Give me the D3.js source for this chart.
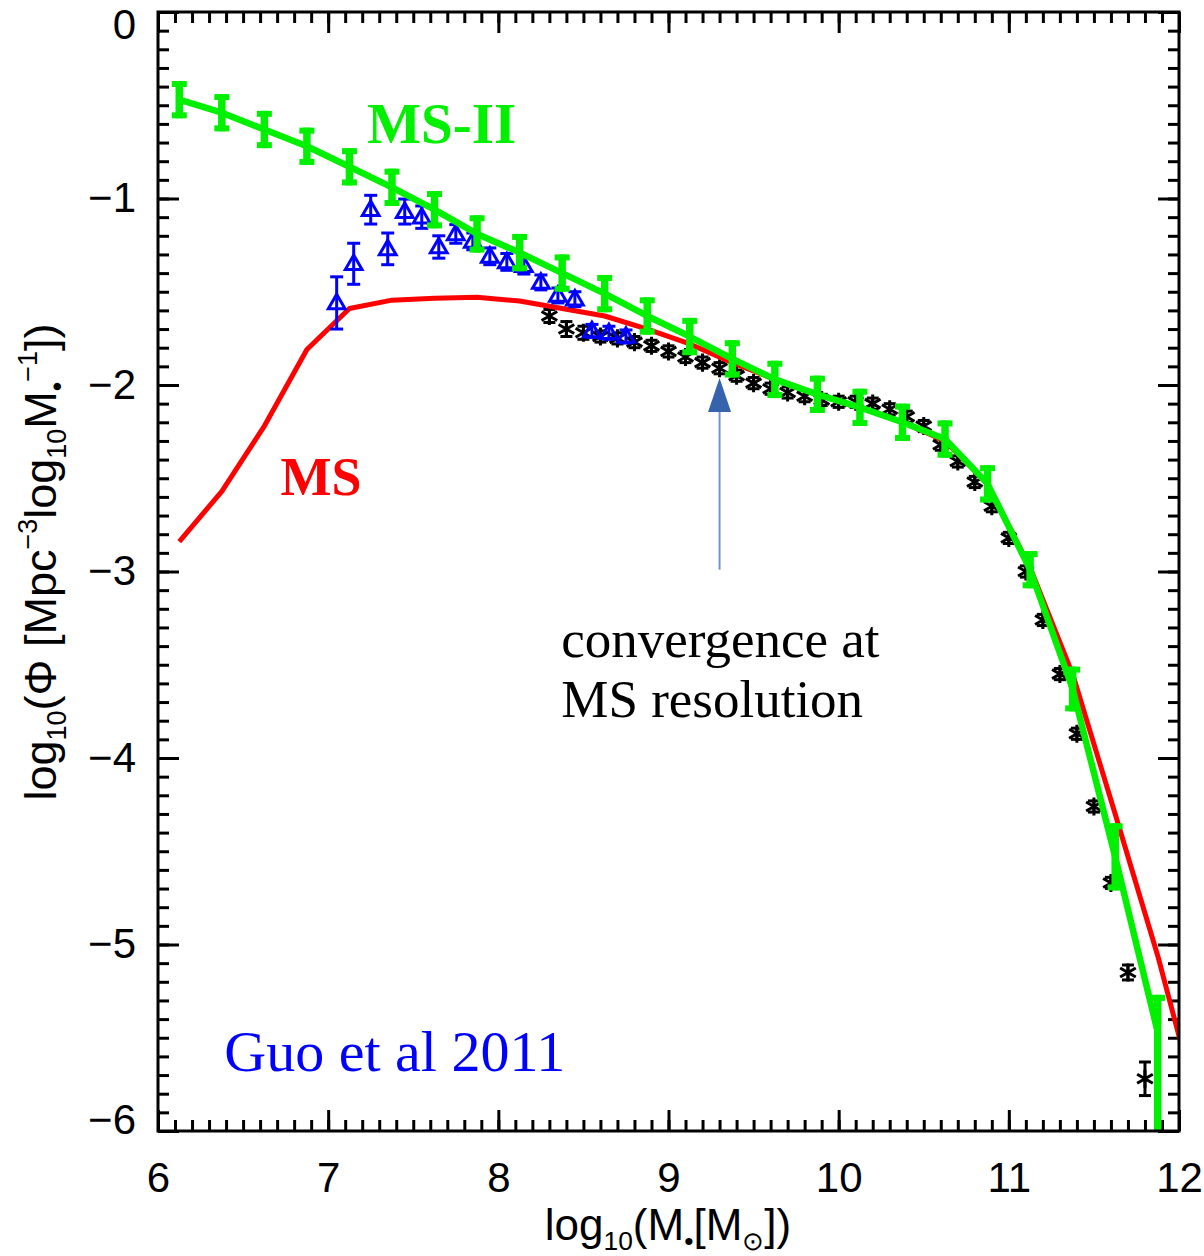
<!DOCTYPE html>
<html>
<head>
<meta charset="utf-8">
<script src="https://cdn.jsdelivr.net/npm/d3@7"></script>
<style>
  body { margin: 0; background: #fff; }
</style>
</head>
<body>
<svg id="chart" width="1204" height="1256"></svg>
<script>
// MS-II (green, points with error bars and line)
const msIIx = [6.125, 6.375, 6.625, 6.875, 7.125, 7.375, 7.625, 7.875, 8.125, 8.375, 8.625, 8.875,
               9.125, 9.375, 9.625, 9.875, 10.125, 10.375, 10.625, 10.875, 11.125, 11.375, 11.625, 11.875];
const msIIy = [-0.47, -0.54, -0.63, -0.72, -0.83, -0.94, -1.06, -1.19, -1.29, -1.40, -1.51, -1.63,
               -1.74, -1.86, -1.97, -2.05, -2.12, -2.20, -2.29, -2.53, -2.99, -3.63, -4.53, -5.47];
const msIIerrUp = [0.1, 0.1, 0.1, 0.1, 0.1, 0.1, 0.1, 0.1, 0.1, 0.1, 0.1, 0.1,
                   0.1, 0.1, 0.1, 0.1, 0.1, 0.1, 0.1, 0.1, 0.1, 0.12, 0.18, 0.2];
const msIIerrDn = [0.1, 0.1, 0.1, 0.1, 0.1, 0.1, 0.1, 0.1, 0.1, 0.1, 0.1, 0.1,
                   0.1, 0.1, 0.1, 0.1, 0.1, 0.1, 0.1, 0.1, 0.1, 0.12, 0.18, 0.9];

// MS (red line)
const msX = [6.125, 6.375, 6.625, 6.875, 7.125, 7.375, 7.625, 7.875, 8.125, 8.375, 8.625, 8.875,
             9.125, 9.375, 9.625, 9.875, 10.125, 10.375, 10.625, 10.875, 11.125, 11.375, 11.625, 11.875, 12.125];
const msY = [-2.84, -2.57, -2.22, -1.81, -1.59, -1.545, -1.535, -1.53, -1.55, -1.59, -1.63, -1.70,
             -1.78, -1.88, -1.97, -2.05, -2.12, -2.20, -2.30, -2.53, -2.98, -3.55, -4.30, -5.06, -5.92];

// blue triangles
const blueX = [7.05, 7.15, 7.25, 7.35, 7.45, 7.55, 7.65, 7.75, 7.85, 7.95, 8.05, 8.15, 8.25, 8.35, 8.45, 8.55, 8.65, 8.75];
const blueY = [-1.56, -1.35, -1.06, -1.27, -1.07, -1.10, -1.26, -1.19, -1.23, -1.31, -1.34, -1.36, -1.45, -1.52, -1.54, -1.71, -1.72, -1.74];
const blueErr = [0.14, 0.11, 0.077, 0.085, 0.067, 0.06, 0.06, 0.05, 0.045, 0.045, 0.045, 0.045, 0.04, 0.04, 0.04, 0.035, 0.035, 0.035];

// black asterisks
const blackX = [8.3, 8.4, 8.5, 8.6, 8.7, 8.8, 8.9, 9.0, 9.1, 9.2, 9.3, 9.4, 9.5, 9.6, 9.7, 9.8, 9.9, 10.0,
                10.1, 10.2, 10.3, 10.4, 10.5, 10.6, 10.7, 10.8, 10.9, 11.0, 11.1, 11.2, 11.3, 11.4, 11.5, 11.6, 11.7, 11.8];
const blackY = [-1.63, -1.70, -1.72, -1.74, -1.75, -1.77, -1.79, -1.82, -1.85, -1.88, -1.91, -1.95, -1.99, -2.02, -2.04, -2.06, -2.08, -2.09,
                -2.09, -2.10, -2.13, -2.17, -2.22, -2.32, -2.41, -2.52, -2.65, -2.82, -3.00, -3.26, -3.55, -3.87, -4.26, -4.67, -5.15, -5.72];
const blackErr = [0.035, 0.04, 0.035, 0.03, 0.03, 0.03, 0.03, 0.03, 0.03, 0.03, 0.03, 0.03, 0.03, 0.03, 0.03, 0.03, 0.03, 0.03,
                  0.03, 0.03, 0.03, 0.03, 0.03, 0.03, 0.03, 0.03, 0.03, 0.03, 0.03, 0.03, 0.03, 0.03, 0.03, 0.03, 0.04, 0.09];

const xTicks = [6, 7, 8, 9, 10, 11, 12];
const yTicks = [0, -1, -2, -3, -4, -5, -6];

const green = "#00f000", red = "#ff0000", blue = "#0000ff";

const svg = d3.select("#chart");
svg.append("rect").attr("width", 1204).attr("height", 1256).attr("fill", "#fff");

const x = d3.scaleLinear().domain([6, 12]).range([158, 1179]);
const y = d3.scaleLinear().domain([0, -6]).range([12, 1131]);

svg.append("defs").append("clipPath").attr("id", "plotClip")
    .append("rect")
    .attr("x", x(6)).attr("y", y(0))
    .attr("width", x(12) - x(6)).attr("height", y(-6) - y(0));

// axes: major + minor ticks pointing inward on all four sides
const tickFont = "Liberation Sans, Arial, sans-serif";
function styleAxis(g) {
    g.select(".domain").remove();
    g.selectAll("line").attr("stroke", "#000").attr("stroke-width", 3);
    g.selectAll("text").attr("font-family", tickFont).attr("font-size", 42).attr("fill", "#000");
}
const minorX = x.ticks(60), minorY = y.ticks(60);

svg.append("g").attr("transform", `translate(0,${y(-6)})`)
    .call(d3.axisBottom(x).tickValues(minorX).tickSize(-11).tickFormat("")).call(styleAxis);
svg.append("g").attr("transform", `translate(0,${y(-6)})`)
    .call(d3.axisBottom(x).tickValues(xTicks).tickSize(-21).tickPadding(31).tickFormat(d3.format("d"))).call(styleAxis);
svg.append("g").attr("transform", `translate(0,${y(0)})`)
    .call(d3.axisTop(x).tickValues(minorX).tickSize(-11).tickFormat("")).call(styleAxis);
svg.append("g").attr("transform", `translate(0,${y(0)})`)
    .call(d3.axisTop(x).tickValues(xTicks).tickSize(-21).tickFormat("")).call(styleAxis);

svg.append("g").attr("transform", `translate(${x(6)},0)`)
    .call(d3.axisLeft(y).tickValues(minorY).tickSize(-11).tickFormat("")).call(styleAxis);
const yAxis = svg.append("g").attr("transform", `translate(${x(6)},0)`)
    .call(d3.axisLeft(y).tickValues(yTicks).tickSize(-21).tickPadding(22).tickFormat(d3.format("d"))).call(styleAxis);
svg.append("g").attr("transform", `translate(${x(12)},0)`)
    .call(d3.axisRight(y).tickValues(minorY).tickSize(-11).tickFormat("")).call(styleAxis);
svg.append("g").attr("transform", `translate(${x(12)},0)`)
    .call(d3.axisRight(y).tickValues(yTicks).tickSize(-21).tickFormat("")).call(styleAxis);

// end labels sit inside the frame
yAxis.selectAll(".tick text").attr("dy", d => d === 0 ? "0.64em" : d === -6 ? "0.06em" : "0.32em");

const plot = svg.append("g").attr("clip-path", "url(#plotClip)");

// black asterisks
const blackData = blackX.map((v, i) => ({x: v, y: blackY[i], e: blackErr[i]}));
const bk = plot.append("g").attr("stroke", "#000").attr("stroke-width", 3).attr("fill", "none");
blackData.forEach(d => {
    bk.append("line").attr("x1", x(d.x)).attr("x2", x(d.x)).attr("y1", y(d.y + d.e)).attr("y2", y(d.y - d.e));
    bk.append("line").attr("x1", x(d.x) - 6).attr("x2", x(d.x) + 6).attr("y1", y(d.y + d.e)).attr("y2", y(d.y + d.e));
    bk.append("line").attr("x1", x(d.x) - 6).attr("x2", x(d.x) + 6).attr("y1", y(d.y - d.e)).attr("y2", y(d.y - d.e));
});
bk.selectAll("path").data(blackData).enter().append("path")
    .attr("d", d3.symbol(d3.symbolAsterisk, 230))
    .attr("transform", d => `translate(${x(d.x)},${y(d.y)})`);

// MS red line
const line = d3.line().x(d => x(d[0])).y(d => y(d[1]));
plot.append("path")
    .datum(msX.map((v, i) => [v, msY[i]]))
    .attr("d", line)
    .attr("fill", "none").attr("stroke", red).attr("stroke-width", 5).attr("stroke-linejoin", "round");

// blue triangles
const blueData = blueX.map((v, i) => ({x: v, y: blueY[i], e: blueErr[i]}));
const bl = plot.append("g").attr("stroke", blue).attr("stroke-width", 3).attr("fill", "none");
blueData.forEach(d => {
    bl.append("line").attr("x1", x(d.x)).attr("x2", x(d.x)).attr("y1", y(d.y + d.e)).attr("y2", y(d.y - d.e));
    bl.append("line").attr("x1", x(d.x) - 6.5).attr("x2", x(d.x) + 6.5).attr("y1", y(d.y + d.e)).attr("y2", y(d.y + d.e));
    bl.append("line").attr("x1", x(d.x) - 6.5).attr("x2", x(d.x) + 6.5).attr("y1", y(d.y - d.e)).attr("y2", y(d.y - d.e));
});
bl.selectAll("path").data(blueData).enter().append("path")
    .attr("d", d3.symbol(d3.symbolTriangle2, 200))
    .attr("transform", d => `translate(${x(d.x)},${y(d.y) + 1})`);

// MS-II green line + error bars
plot.append("path")
    .datum(msIIx.map((v, i) => [v, msIIy[i]]))
    .attr("d", line)
    .attr("fill", "none").attr("stroke", green).attr("stroke-width", 6.5).attr("stroke-linejoin", "round");
const gr = plot.append("g").attr("stroke", green);
msIIx.forEach((v, i) => {
    const top = y(msIIy[i] + msIIerrUp[i]), bot = y(msIIy[i] - msIIerrDn[i]);
    gr.append("line").attr("x1", x(v)).attr("x2", x(v)).attr("y1", top).attr("y2", bot).attr("stroke-width", 7.5);
    gr.append("line").attr("x1", x(v) - 7.5).attr("x2", x(v) + 7.5).attr("y1", top + 3).attr("y2", top + 3).attr("stroke-width", 6);
    gr.append("line").attr("x1", x(v) - 7.5).attr("x2", x(v) + 7.5).attr("y1", bot - 3).attr("y2", bot - 3).attr("stroke-width", 6);
});

// frame
svg.append("rect")
    .attr("x", x(6)).attr("y", y(0))
    .attr("width", x(12) - x(6)).attr("height", y(-6) - y(0))
    .attr("fill", "none").attr("stroke", "#000").attr("stroke-width", 3);

// arrow
const arrowX = 9.3, arrowTip = -1.962, arrowBase = -2.145, arrowTail = -2.99;
svg.append("line")
    .attr("x1", x(arrowX)).attr("x2", x(arrowX))
    .attr("y1", y(arrowTail)).attr("y2", y(arrowBase))
    .attr("stroke", "#7394c9").attr("stroke-width", 2);
svg.append("path")
    .attr("d", `M${x(arrowX)},${y(arrowTip)} L${x(arrowX) + 11.5},${y(arrowBase)} L${x(arrowX) - 11.5},${y(arrowBase)} Z`)
    .attr("fill", "#3564ad");

// annotations
const serif = "Liberation Serif, Times New Roman, serif";
function note(txt, xv, yv, size, color, weight) {
    svg.append("text").attr("x", x(xv)).attr("y", y(yv))
        .attr("font-family", serif).attr("font-size", size)
        .attr("font-weight", weight).attr("fill", color).text(txt);
}
note("MS-II", 7.23, -0.70, 57, green, "bold");
note("MS", 6.72, -2.59, 54, red, "bold");
note("convergence at", 8.37, -3.46, 53, "#000", "normal");
note("MS resolution", 8.37, -3.78, 53, "#000", "normal");
note("Guo et al 2011", 6.39, -5.68, 58, blue, "normal");

// axis titles with sub/superscripts
function richText(sel, parts, base) {
    let shift = 0;
    parts.forEach(p => {
        const target = p.s === "sub" ? 0.22 * base : p.s === "sup" ? -0.42 * base : 0;
        const t = sel.append("tspan").text(p.t).attr("dy", target - shift);
        if (p.s) t.attr("font-size", base * 0.6);
        shift = target;
    });
}
const yLabel = svg.append("text")
    .attr("transform", "translate(56,562) rotate(-90)")
    .attr("text-anchor", "middle")
    .attr("font-family", tickFont).attr("font-size", 45).attr("fill", "#000");
richText(yLabel, [
    {t: "log"}, {t: "10", s: "sub"}, {t: "(Φ [Mpc"}, {t: "−3", s: "sup"},
    {t: "log"}, {t: "10", s: "sub"}, {t: "M"}, {t: "•", s: "sub"}, {t: "−1", s: "sup"}, {t: "])"}
], 45);

const xLabel = svg.append("text")
    .attr("x", 668).attr("y", 1240)
    .attr("text-anchor", "middle")
    .attr("font-family", tickFont).attr("font-size", 44).attr("fill", "#000");
richText(xLabel, [
    {t: "log"}, {t: "10", s: "sub"}, {t: "(M"}, {t: "•", s: "sub"}, {t: "[M"}, {t: "⊙", s: "sub"}, {t: "])"}
], 44);
</script>
</body>
</html>
